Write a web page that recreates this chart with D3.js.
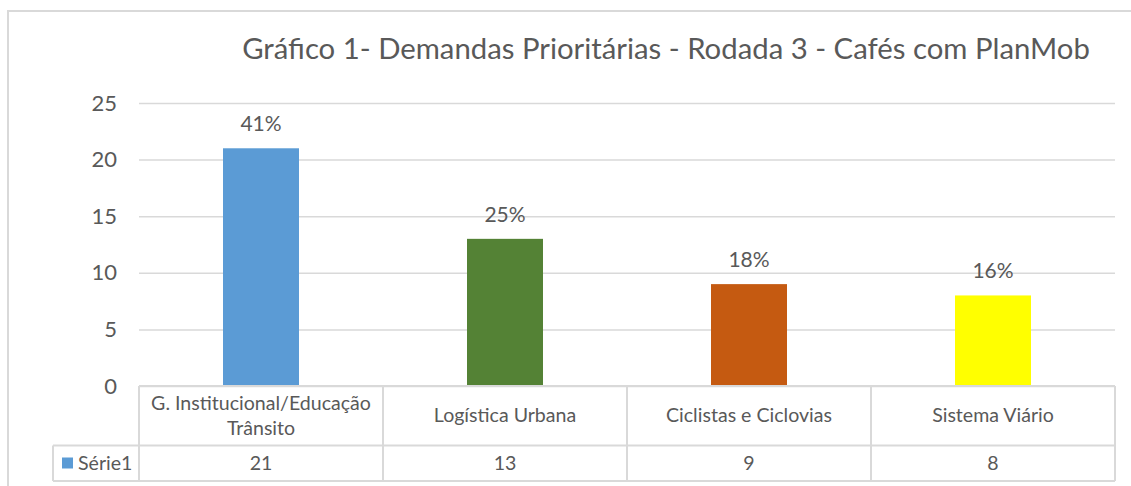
<!DOCTYPE html>
<html><head><meta charset="utf-8">
<script src="https://cdn.jsdelivr.net/npm/d3@7"></script>
<style>body{margin:0;background:#fff}svg{display:block}text{font-family:Lato,"Open Sans",sans-serif;fill:#595959}</style>
</head><body>
<svg id="c" width="1131" height="486"></svg>
<script>
const title = "Gráfico 1- Demandas Prioritárias - Rodada 3 - Cafés com PlanMob";
const categories = [["G. Institucional/Educação","Trânsito"],["Logística Urbana"],["Ciclistas e Ciclovias"],["Sistema Viário"]];
const values = [21, 13, 9, 8];
const percentLabels = ["41%","25%","18%","16%"];
const colors = ["#5B9BD5","#548235","#C55A11","#FFFF00"];
const seriesName = "Série1";
const yTicks = [0,5,10,15,20,25];

const svg = d3.select("#c");
const L = 139, R = 1115, T = 103, B = 386;
const grid = "#d9d9d9";

// chart border
svg.append("rect").attr("x",8).attr("y",11).attr("width",1140).attr("height",500)
  .attr("fill","none").attr("stroke",grid).attr("stroke-width",2);

const x = d3.scaleBand().domain(d3.range(values.length)).range([L,R]).paddingInner(0).paddingOuter(0);
const y = d3.scaleLinear().domain([0,25]).range([B,T]);

// gridlines via axis
const gAxis = svg.append("g").attr("transform",`translate(${L},0)`)
  .call(d3.axisLeft(y).tickValues(yTicks).tickSize(-(R-L)).tickPadding(22));
gAxis.select(".domain").remove();
gAxis.selectAll(".tick line").attr("stroke",grid).attr("stroke-width",1.5);
gAxis.selectAll(".tick text").attr("font-size",22).style("fill","#595959")
  .attr("font-family","Lato");

// title
const t = svg.append("text").attr("x",666).attr("y",59).attr("text-anchor","middle")
  .attr("font-size",26).text(title);
const tw = t.node().getComputedTextLength();
t.attr("font-size", 26*848/tw);

// bars
const bw = 76;
svg.selectAll("rect.bar").data(values).join("rect").attr("class","bar")
  .attr("x",(d,i)=>x(i)+x.bandwidth()/2-bw/2).attr("width",bw)
  .attr("y",d=>y(d)).attr("height",d=>B-y(d)).attr("fill",(d,i)=>colors[i]);

// percent labels
svg.selectAll("text.pl").data(values).join("text").attr("class","pl")
  .attr("x",(d,i)=>x(i)+x.bandwidth()/2).attr("y",d=>y(d)-17)
  .attr("text-anchor","middle").attr("font-size",21).text((d,i)=>percentLabels[i]);

// table
const rowSep = 445.5, tBot = 481, legL = 53;
const tb = svg.append("g").attr("stroke",grid).attr("stroke-width",2).attr("fill","none");
tb.append("line").attr("x1",L).attr("x2",R).attr("y1",B).attr("y2",B);
tb.append("line").attr("x1",legL).attr("x2",R).attr("y1",rowSep).attr("y2",rowSep);
tb.append("line").attr("x1",legL).attr("x2",R).attr("y1",tBot).attr("y2",tBot);
tb.append("line").attr("x1",legL).attr("x2",legL).attr("y1",rowSep).attr("y2",tBot);
const bounds = d3.range(values.length).map(i=>x(i)).concat([R]);
tb.selectAll("line.v").data(bounds).join("line").attr("class","v")
  .attr("x1",d=>d).attr("x2",d=>d).attr("y1",B).attr("y2",tBot);

// measure table font size
const probe = svg.append("text").attr("font-size",17).text(categories[0][0]);
const fs = 17*220/probe.node().getComputedTextLength();
probe.remove();

// category labels
categories.forEach((lines,i)=>{
  const cx = x(i)+x.bandwidth()/2;
  const mid = (B+rowSep)/2;
  const lh = 25;
  lines.forEach((s,j)=>{
    svg.append("text").attr("x",cx).attr("y",mid + (j-(lines.length-1)/2)*lh + 6.5)
      .attr("text-anchor","middle").attr("font-size",fs).text(s);
  });
  svg.append("text").attr("x",cx).attr("y",(rowSep+tBot)/2+6.5)
    .attr("text-anchor","middle").attr("font-size",fs).text(values[i]);
});

// legend key
svg.append("rect").attr("x",62).attr("y",457.5).attr("width",11).attr("height",11).attr("fill",colors[0]);
svg.append("text").attr("x",78).attr("y",(rowSep+tBot)/2+6.5).attr("font-size",fs).text(seriesName);
</script>
</body></html>
